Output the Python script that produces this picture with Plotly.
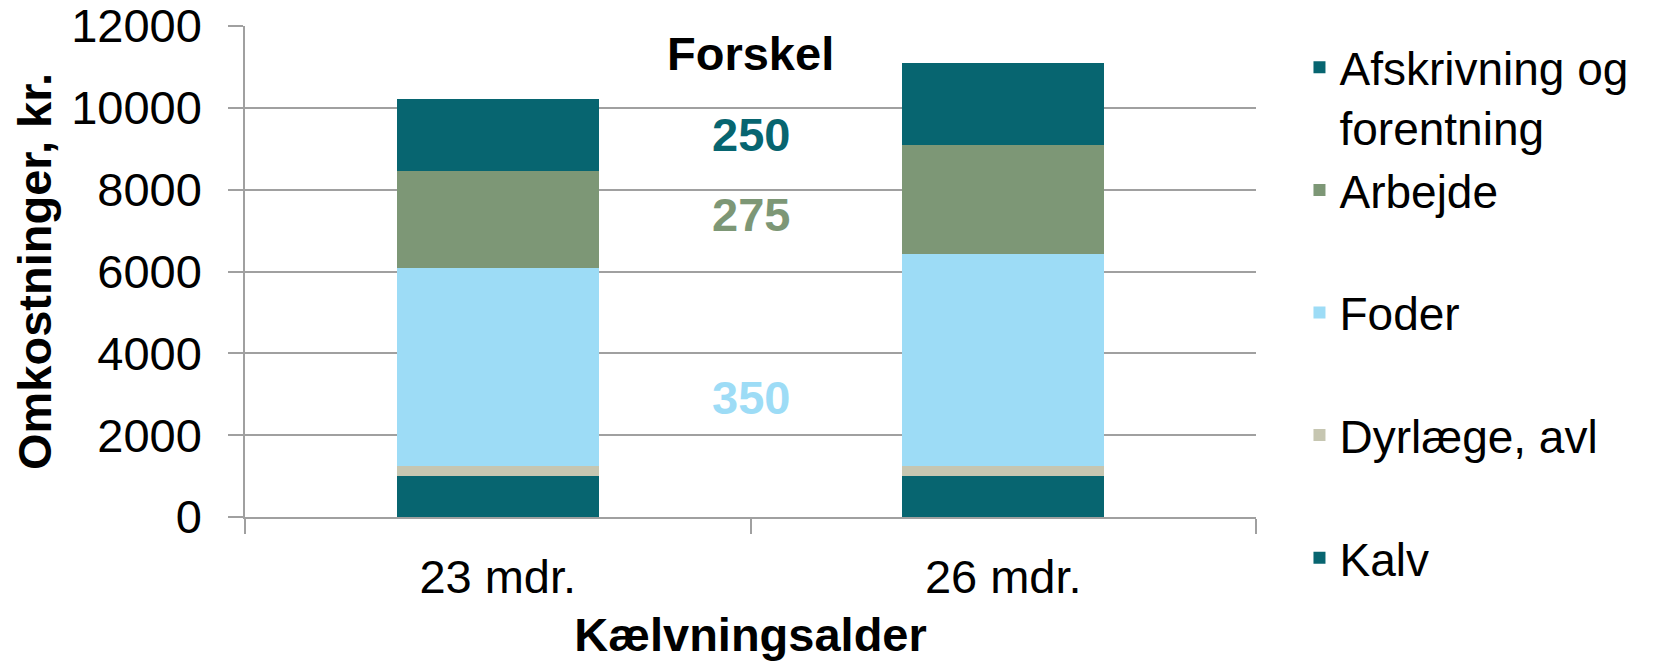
import plotly.graph_objects as go

categories = ["23 mdr.", "26 mdr."]
series_names = ["Kalv", "Dyrlæge, avl", "Foder", "Arbejde", "Afskrivning og<br>forentning"]
kalv = [990, 990]
dyrlaege = [245, 245]
foder = [4850, 5200]
arbejde = [2370, 2645]
afskrivning = [1770, 2020]
colors = ["#076570", "#c6c6b1", "#9ddcf6", "#7d9776", "#076570"]

diff_labels = ["Forskel", "250", "275", "350"]
diff_y = [11340, 9360, 7405, 2930]
diff_colors = ["#000000", "#076570", "#7d9776", "#9ddcf6"]

values = [kalv, dyrlaege, foder, arbejde, afskrivning]
FONT = "Liberation Sans, Arial, sans-serif"
FS = 47

fig = go.Figure()
for name, vals, col in zip(series_names, values, colors):
    label = name if "<br>" in name else name + "<br> "
    fig.add_trace(go.Bar(x=categories, y=vals, name=label, marker_color=col,
                         marker_line_width=0))

for txt, yy, col in zip(diff_labels, diff_y, diff_colors):
    fig.add_annotation(x=0.5, xref="paper", y=yy, yref="y", text="<b>" + txt + "</b>",
                       showarrow=False, font=dict(family=FONT, size=FS, color=col))

fig.update_layout(
    barmode="stack",
    bargap=0.6,
    width=1655, height=663,
    margin=dict(l=237, r=407, t=18, b=154, autoexpand=False),
    paper_bgcolor="white", plot_bgcolor="white",
    font=dict(family=FONT, size=FS, color="black"),
    legend=dict(x=1.043, xanchor="left", y=0.99, yanchor="top", traceorder="reversed",
                valign="top", font=dict(family=FONT, size=46), tracegroupgap=0,
                maxheight=660, bgcolor="rgba(0,0,0,0)"),
    xaxis=dict(showline=True, linecolor="#a0a0a0", linewidth=1.5, ticks="outside",
               tickson="boundaries", ticklen=15, tickcolor="#a0a0a0", tickwidth=1.5,
               ticklabelstandoff=18, automargin=False, tickfont=dict(family=FONT, size=FS),
               title=dict(text="<b>Kælvningsalder</b>", font=dict(family=FONT, size=FS), standoff=16)),
    yaxis=dict(range=[0, 12000], dtick=2000, tickformat="d", showgrid=True, gridcolor="#a0a0a0",
               gridwidth=1.5, showline=True, linecolor="#a0a0a0", linewidth=1.5, ticks="outside",
               ticklen=15, tickcolor="#a0a0a0", tickwidth=1.5, ticklabelstandoff=17, zeroline=False,
               automargin=False, ticklabeloverflow="allow", tickfont=dict(family=FONT, size=FS),
               title=dict(text="<b>Omkostninger, kr.</b>", font=dict(family=FONT, size=FS), standoff=10)),
)
fig.write_html("out.html")
